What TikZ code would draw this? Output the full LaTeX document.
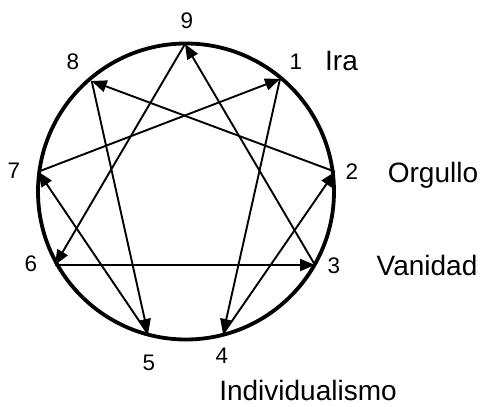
\documentclass[tikz,border=0pt]{standalone}
\usepackage{fontspec}
\setmainfont{Liberation Sans}
\usetikzlibrary{arrows.meta}
\begin{document}
\begin{tikzpicture}[x=1pt,y=-1pt,
  conn/.style={line width=1.9pt,-{Triangle[length=15pt,width=12pt]}},
  digit/.style={inner sep=0pt,anchor=center,font=\fontsize{22.5}{22.5}\selectfont},
  word/.style={inner sep=0pt,anchor=base,font=\fontsize{28}{28}\selectfont}]
\useasboundingbox (0,0) rectangle (483,407);
\draw[line width=3.8pt] (186,191.5) circle[radius=148pt];
\coordinate (v9) at (185,44);
\coordinate (v1) at (280,79);
\coordinate (v2) at (335,171.7);
\coordinate (v3) at (315,265);
\coordinate (v4) at (223,334);
\coordinate (v5) at (148,334);
\coordinate (v6) at (55,265);
\coordinate (v7) at (38.3,171.7);
\coordinate (v8) at (91.7,81);
\draw[conn] (v7) -- (v1);
\draw[conn] (v1) -- (v4);
\draw[conn] (v4) -- (v2);
\draw[conn] (v2) -- (v8);
\draw[conn] (v8) -- (v5);
\draw[conn] (v5) -- (v7);
\draw[conn] (v9) -- (v6);
\draw[conn] (v6) -- (v3);
\draw[conn] (v3) -- (v9);
\node[digit] (l9) at (187,20.5) {9};
\node[digit] (l1) at (296,62) {1};
\node[digit] (l8) at (73,62) {8};
\node[digit] (l7) at (14,171) {7};
\node[digit] (l2) at (352,172) {2};
\node[digit] (l6) at (31,264) {6};
\node[digit] (l3) at (334,266) {3};
\node[digit] (l5) at (149,363) {5};
\node[digit] (l4) at (222,356) {4};
\node[word] (ira) at (341.5,70) {Ira};
\node[word] (org) at (433,182) {Orgullo};
\node[word] (van) at (427,275) {Vanidad};
\node[word] (ind) at (308,400) {Individualismo};
\end{tikzpicture}
\end{document}
